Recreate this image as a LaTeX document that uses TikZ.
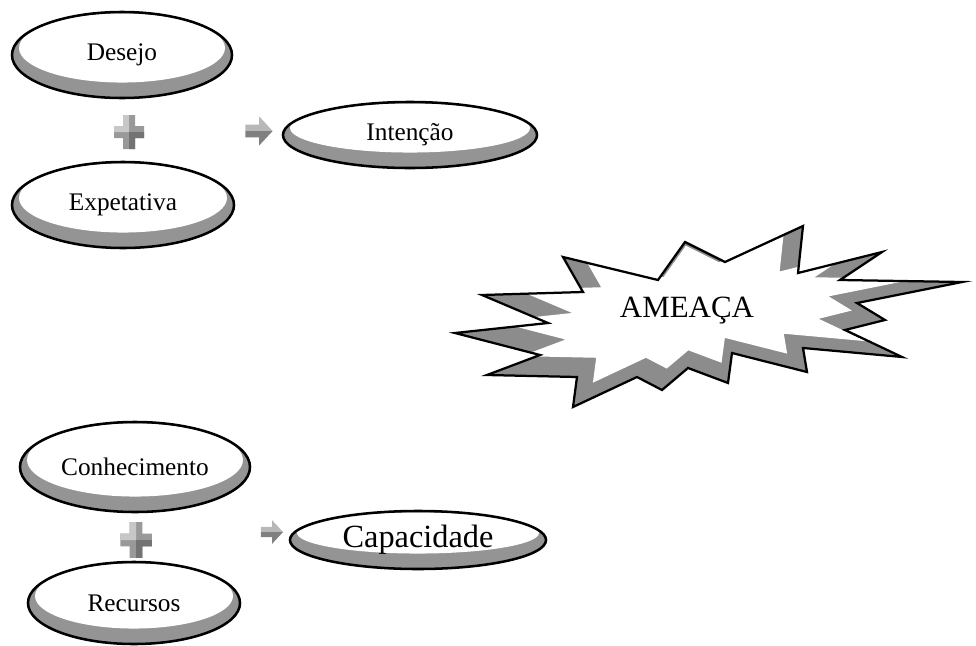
\documentclass[tikz,border=0pt]{standalone}
\usepackage{fontspec}
\setmainfont{Liberation Serif}
\usetikzlibrary{shapes.geometric, calc}

\def\burst{(482,295) -- (583,292) -- (563,257) -- (658,280) -- (685,242) -- (725,262)
  -- (803,226) -- (798,273) -- (882,252) -- (840,280) -- (962,282) -- (857,303)
  -- (885,320) -- (845,330) -- (902,357) -- (803,348) -- (807,372) -- (732,353)
  -- (728,383) -- (688,368) -- (662,390) -- (637,377) -- (573,407) -- (577,377)
  -- (487,375) -- (540,355) -- (455,333) -- (548,323) -- cycle}

\begin{document}
\begin{tikzpicture}[x=0.025cm, y=-0.025cm,
    oval/.style={ellipse, draw, line width=1.8pt, fill=black!42, inner sep=0pt,
      font=\fontsize{18}{21}\selectfont,
      path picture={
        \fill[white] let \p1 = (path picture bounding box.north east),
          \p2 = (path picture bounding box.center) in
          (\x2, {\y2+5pt}) ellipse [x radius={\x1-\x2-5pt}, y radius={\y1-\y2-6pt}];
      }},
    plusmark/.pic={
      \fill[black!40] (-6,-17) -- (6,-17) -- (6,-6) -- (15,-6) -- (15,6) -- (6,6)
        -- (6,17) -- (-6,17) -- (-6,6) -- (-15,6) -- (-15,-6) -- (-6,-6) -- cycle;
      \fill[black!22] (-15,-6) -- (-6,-6) -- (-6,-17) -- (0,-17) -- (0,0) -- (-15,0) -- cycle;
      \fill[black!55] (15,6) -- (6,6) -- (6,17) -- (0,17) -- (0,0) -- (15,0) -- cycle;
    },
    arrowmark/.pic={
      \fill[black!28] (-13,-6) -- (0,-6) -- (0,-14) -- (13,0) -- (-13,0) -- cycle;
      \fill[black!50] (-13,6) -- (0,6) -- (0,14) -- (13,0) -- (-13,0) -- cycle;
    }]
  \useasboundingbox (0,0) rectangle (976,646);

  \node[oval, minimum width=5.5cm, minimum height=2.15cm] (desejo) at (122,55) {Desejo};
  \node[oval, minimum width=5.55cm, minimum height=2.15cm] (expetativa) at (123,205) {Expetativa};
  \node[oval, minimum width=6.35cm, minimum height=1.65cm] (intencao) at (410,135) {Intenção};
  \node[oval, minimum width=5.75cm, minimum height=2.25cm] (conhecimento) at (135,467) {Conhecimento};
  \node[oval, minimum width=5.3cm, minimum height=2.05cm] (recursos) at (134,603) {Recursos};
  \node[oval, minimum width=6.4cm, minimum height=1.45cm,
    font=\fontsize{23}{27}\selectfont] (capacidade) at (418,540) {Capacidade};

  \pic (plustop) at (129,132) {plusmark};
  \pic[scale=1.05] (plusbottom) at (136,540) {plusmark};
  \pic[scale=1.05] (arrowtop) at (259,131) {arrowmark};
  \pic[scale=0.85] (arrowbottom) at (272,532) {arrowmark};

  \fill[black!45] \burst;
  \begin{scope}
    \clip \burst;
    \fill[white, shift={(690,303)}, scale=0.83, shift={(-690,-311)}] \burst;
  \end{scope}
  \draw[line width=1.6pt] \burst;
  \node[font=\fontsize{22}{26}\selectfont] (ameaca) at (687,311) {AMEAÇA};
\end{tikzpicture}
\end{document}
